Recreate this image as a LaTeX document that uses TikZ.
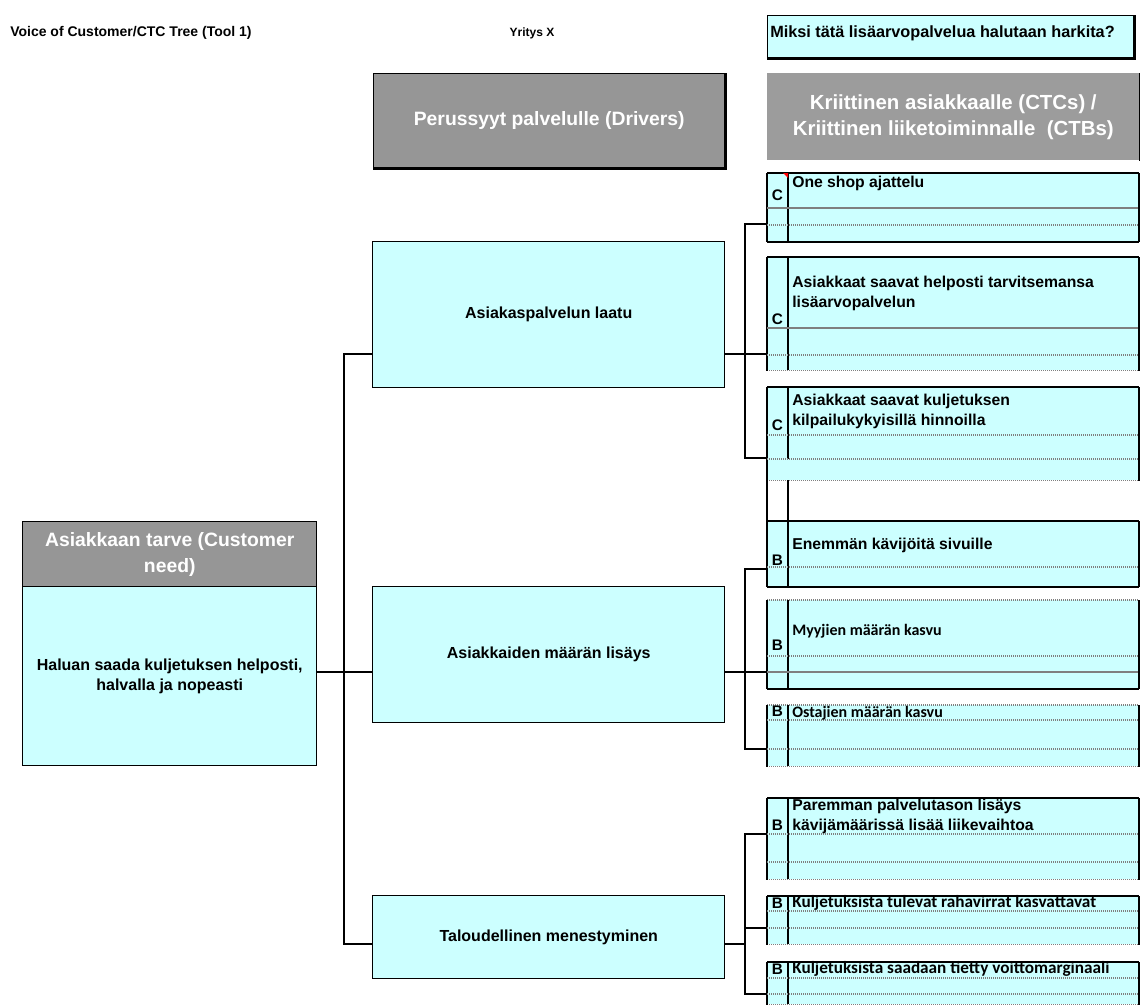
\documentclass[tikz,border=0pt]{standalone}
\usepackage{fontspec}
\setmainfont{Liberation Sans}
\newfontfamily\calib{Carlito}
\definecolor{cyanfill}{HTML}{CCFFFF}
\definecolor{hdrgray}{HTML}{969696}
\definecolor{hdrgrayb}{HTML}{9C9C9C}
\definecolor{gridgray}{HTML}{7F7F7F}
\tikzset{
  wh/.style 2 args={minimum width=#1*0.75pt, minimum height=#2*0.75pt},
  bx/.style={draw=black, line width=1.1pt, inner sep=0pt, anchor=north west, align=center},
  rb/.style={fill=cyanfill, inner sep=0pt, anchor=north west, minimum width=371*0.75pt},
  conn/.style={draw=black, line width=1pt},
  outer/.style={draw=black, line width=1.5pt},
  dotl/.style={draw=gridgray, line width=1pt, dash pattern=on 0.75pt off 0.75pt},
  soll/.style={draw=gridgray, line width=1pt},
  coll/.style={draw=black, line width=1.1pt},
  lett/.style={font=\bfseries\fontsize{11.5}{13}\selectfont, inner sep=0pt},
  rtxt/.style={font=\bfseries\fontsize{11.8}{15}\selectfont, inner sep=0pt, anchor=west, align=left},
  ctxt/.style={font=\calib\bfseries\fontsize{12}{15}\selectfont, inner sep=0pt, anchor=west, align=left},
  ctxtw/.style={font=\calib\bfseries\fontsize{12.9}{15}\selectfont, inner sep=0pt, anchor=west, align=left},
  mtxt/.style={font=\bfseries\fontsize{12}{15}\selectfont},
  htxt/.style={font=\bfseries\fontsize{14.5}{19.5}\selectfont, text=white},
}
% name, top, bottom, top style, bottom style, end of column line
\newcommand\rframe[6]{%
  \node[rb, minimum height=(#3-#2)*0.75pt] (#1) at (767,#2) {};
  \draw[#4] (#1.north west) -- (#1.north east);
  \draw[#5] (#1.south west) -- (#1.south east);
  \draw[outer] (#1.north west) -- (#1.south west);
  \draw[outer] (#1.north east) -- (#1.south east);
  \draw[coll] (788,#2) -- (788,#6);
}
\begin{document}
\begin{tikzpicture}[x=0.75pt,y=-0.75pt]
\useasboundingbox (0,0) rectangle (1141,1004);

% headings
\node[anchor=west, inner sep=0pt, font=\bfseries\fontsize{10.5}{12}\selectfont] (title) at (10,33) {Voice of Customer/CTC Tree (Tool 1)};
\node[inner sep=0pt, font=\bfseries\fontsize{9}{11}\selectfont] (comp) at (532,33) {Yritys X};
\node[bx, fill=cyanfill, wh={366}{42}] (q) at (767,15) {};
\draw[line width=1.6pt] (q.north east) -- (q.south east) -- (q.south west);
\node[anchor=west, inner sep=0pt, font=\bfseries\fontsize{12.2}{14}\selectfont] (qt) at (770,33) {Miksi tätä lisäarvopalvelua halutaan harkita?};

\node[bx, fill=hdrgray, wh={351}{94}, htxt] (drv) at (373,73) {Perussyyt palvelulle (Drivers)};
\draw[line width=1.6pt] (drv.north east) -- (drv.south east) -- (drv.south west);
\node[inner sep=0pt, anchor=north west, fill=hdrgrayb, wh={372}{87}, htxt, font=\bfseries\fontsize{15.3}{19.5}\selectfont, align=center] (ctc) at (767,73) {Kriittinen asiakkaalle (CTCs) /\\Kriittinen liiketoiminnalle\ \ (CTBs)};
\draw[line width=1.2pt] (ctc.north east) -- (ctc.south east);

% customer need
\node[bx, fill=hdrgray, wh={294}{65}, htxt] (needh) at (22,521) {Asiakkaan tarve (Customer\\need)};
\node[bx, fill=cyanfill, wh={294}{179}, mtxt] (need) at (22,586) {Haluan saada kuljetuksen helposti,\\halvalla ja nopeasti};

% drivers
\node[bx, fill=cyanfill, wh={352}{146}, mtxt] (mid1) at (372,241) {Asiakaspalvelun laatu};
\node[bx, fill=cyanfill, wh={352}{136}, mtxt] (mid2) at (372,586) {Asiakkaiden määrän lisäys};
\node[bx, fill=cyanfill, wh={352}{83}, mtxt] (mid3) at (372,895) {Taloudellinen menestyminen};

% right boxes
\rframe{r1}{173}{241}{outer}{outer}{241}
\draw[soll] (767,208) -- (1138,208);
\draw[dotl] (767,225) -- (1138,225);
\fill[red] (783,173) -- (788,173) -- (788,178) -- cycle;
\node[lett] (l1) at (777.5,195) {C};
\node[rtxt] (t1) at (792,183) {One shop ajattelu};

\rframe{r2}{257}{370}{outer}{dotl}{370}
\draw[soll] (767,328) -- (1138,328);
\draw[dotl] (767,355) -- (1138,355);
\node[lett] (l2) at (777.5,319) {C};
\node[rtxt] (t2) at (792,293) {Asiakkaat saavat helposti tarvitsemansa\\lisäarvopalvelun};

\rframe{r3}{387}{480}{outer}{dotl}{459}
\draw[dotl] (767,435) -- (1138,435);
\draw[dotl] (767,459) -- (1138,459);
\node[lett] (l3) at (777.5,425) {C};
\node[rtxt] (t3) at (792,411) {Asiakkaat saavat kuljetuksen\\kilpailukykyisillä hinnoilla};
\draw[line width=0.8pt] (767,480) -- (767,521);
\draw[coll] (788,480) -- (788,521);

\rframe{r4}{521}{586}{outer}{outer}{586}
\draw[dotl] (767,567) -- (1138,567);
\node[lett] (l4) at (777.5,560) {B};
\node[rtxt] (t4) at (792,545) {Enemmän kävijöitä sivuille};

\rframe{r5}{600}{688}{dotl}{outer}{688}
\draw[dotl] (767,656) -- (1138,656);
\draw[soll] (767,672) -- (1138,672);
\node[lett] (l5) at (777.5,645) {B};
\node[ctxt] (t5) at (792,631) {Myyjien määrän kasvu};

\rframe{r6}{705}{766}{dotl}{dotl}{766}
\draw[dotl] (767,720) -- (1138,720);
\draw[dotl] (767,749) -- (1138,749);
\node[lett] (l6) at (777.5,711) {B};
\node[ctxt] (t6) at (792,713) {Ostajien määrän kasvu};

\rframe{r7}{798}{879}{outer}{dotl}{879}
\draw[dotl] (767,834) -- (1138,834);
\draw[dotl] (767,862) -- (1138,862);
\node[lett] (l7) at (777.5,825) {B};
\node[rtxt] (t7) at (792,816.5) {Paremman palvelutason lisäys\\kävijämäärissä lisää liikevaihtoa};

\rframe{r8}{896}{944}{outer}{dotl}{944}
\draw[dotl] (767,911) -- (1138,911);
\draw[dotl] (767,928) -- (1138,928);
\node[lett] (l8) at (777.5,903) {B};
\node[ctxtw] (t8) at (792,903) {Kuljetuksista tulevat rahavirrat kasvattavat};

\rframe{r9}{962}{1004}{outer}{dotl}{1004}
\draw[dotl] (767,978) -- (1138,978);
\draw[dotl] (767,994) -- (1138,994);
\node[lett] (l9) at (777.5,969) {B};
\node[ctxtw] (t9) at (792,969) {Kuljetuksista saadaan tietty voittomarginaali};

% connectors: need -> drivers
\coordinate (ja) at (344,672);
\coordinate (ja1) at (344,354);
\coordinate (ja3) at (344,944);
\draw[conn] (need.east |- ja) -- (mid2.west |- ja);
\draw[conn] (mid1.west |- ja1) -- (ja1) -- (ja3) -- (mid3.west |- ja3);

% drivers -> CTCs
\coordinate (jb) at (745,354);
\coordinate (jb1) at (745,224);
\coordinate (jb3) at (745,458);
\draw[conn] (mid1.east |- jb) -- (r2.west |- jb);
\draw[conn] (r1.west |- jb1) -- (jb1) -- (jb3) -- (r3.west |- jb3);

\coordinate (jc) at (745,672);
\coordinate (jc1) at (745,569);
\coordinate (jc3) at (745,749);
\draw[conn] (mid2.east |- jc) -- (r5.west |- jc);
\draw[conn] (r4.west |- jc1) -- (jc1) -- (jc3) -- (r6.west |- jc3);

\coordinate (jd) at (745,944);
\coordinate (jd1) at (745,834);
\coordinate (jd2) at (745,928);
\coordinate (jd3) at (745,994);
\draw[conn] (mid3.east |- jd) -- (jd);
\draw[conn] (jd2) -- (r8.west |- jd2);
\draw[conn] (r7.west |- jd1) -- (jd1) -- (jd3) -- (r9.west |- jd3);
\end{tikzpicture}
\end{document}
